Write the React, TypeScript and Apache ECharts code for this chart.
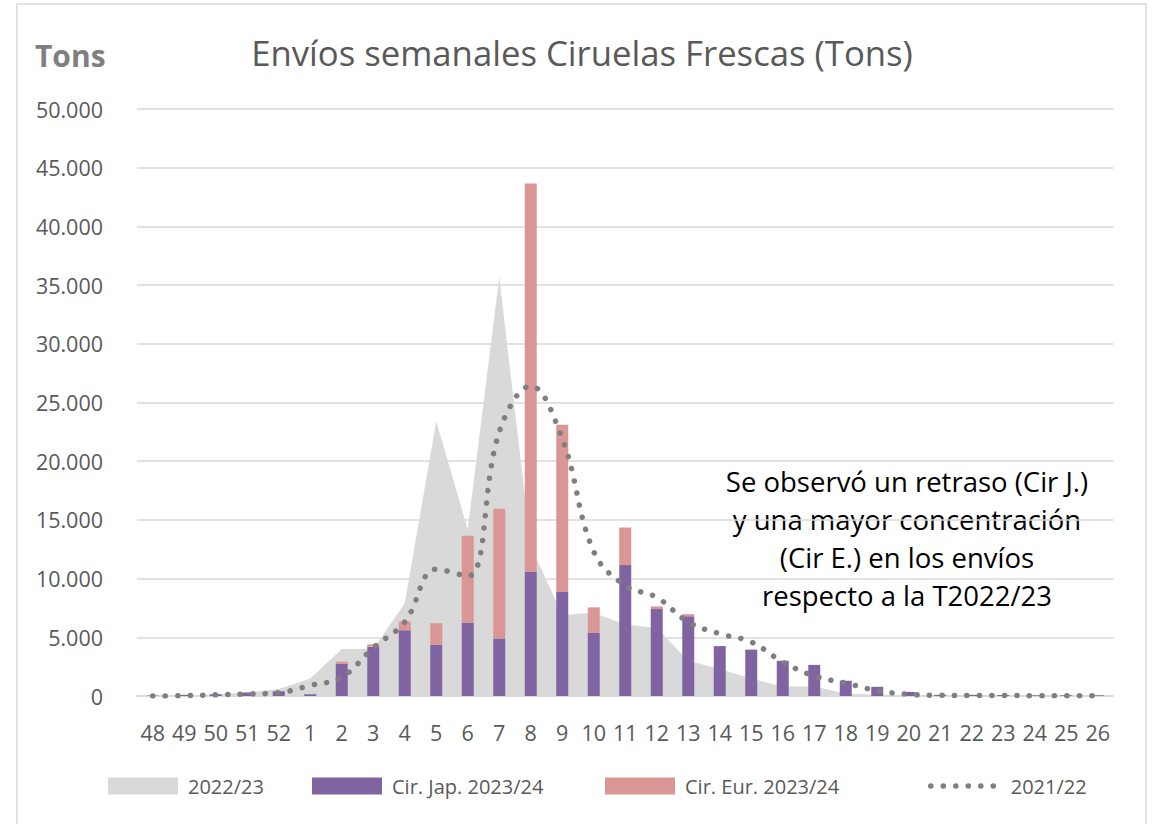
import React, { useEffect, useRef } from "react";
import * as echarts from "echarts";

const weeks = ["48", "49", "50", "51", "52", "1", "2", "3", "4", "5", "6", "7", "8", "9", "10", "11", "12", "13", "14", "15", "16", "17", "18", "19", "20", "21", "22", "23", "24", "25", "26"];

const season2223 = [0, 50, 150, 300, 600, 1500, 4000, 4000, 7900, 23400, 14200, 35700, 12800, 6900, 7100, 6100, 5800, 3000, 2300, 1500, 800, 800, 200, 100, 80, 50, 50, 30, 20, 20, 20];

const japonesa2324 = [30, 100, 150, 300, 400, 150, 2750, 4200, 5600, 4350, 6250, 4900, 10600, 8850, 5400, 11150, 7400, 6800, 4250, 3950, 3000, 2650, 1300, 780, 350, 100, 100, 80, 60, 60, 60];

const europea2324 = [0, 0, 0, 0, 0, 0, 170, 200, 750, 1850, 7400, 11050, 33050, 14250, 2150, 3200, 230, 170, 0, 0, 0, 0, 0, 0, 0, 0, 0, 0, 0, 0, 0];

const season2122 = [0, 30, 100, 170, 280, 900, 1600, 4100, 6300, 10800, 10200, 22500, 26400, 21900, 12300, 9400, 8400, 6300, 5300, 4600, 2900, 1700, 1100, 450, 150, 60, 50, 40, 30, 20, 20];

const yTicks = [0, 5000, 10000, 15000, 20000, 25000, 30000, 35000, 40000, 45000, 50000];

const fmt = (v: number) => {
  if (v === 0) return "0";
  const s = String(Math.round(v));
  return s.replace(/\B(?=(\d{3})+(?!\d))/g, ".");
};

const FONT = "'Open Sans', sans-serif";
const TXT = "#595959";
const DOT_STYLE = { color: "#7f7f7f", width: 5.5, type: [0.1, 12.4], cap: "round" };

export default function App() {
  const ref = useRef<HTMLDivElement>(null);
  useEffect(() => {
    if (!ref.current) return;
    const chart = echarts.init(ref.current, undefined, { renderer: "svg" });
    const legendBase = {
      top: 776,
      padding: 0,
      itemWidth: 70,
      itemHeight: 17,
      textStyle: { color: TXT, fontSize: 20, fontFamily: FONT, padding: [0, 0, 0, 5] },
    };
    chart.setOption({
      animation: false,
      backgroundColor: "#ffffff",
      textStyle: { fontFamily: FONT },
      grid: { left: 137, right: 44.5, top: 109, bottom: 128, containLabel: false },
      legend: [
        { ...legendBase, left: 108, data: [{ name: "2022/23", icon: "rect", itemStyle: { color: "#d9d9d9" } }] },
        { ...legendBase, left: 312, data: [{ name: "Cir. Jap. 2023/24", icon: "rect" }] },
        { ...legendBase, left: 605, data: [{ name: "Cir. Eur. 2023/24", icon: "rect" }] },
        {
          ...legendBase,
          left: 928,
          data: [
            {
              name: "2021/22",
              itemStyle: { color: "rgba(0,0,0,0)", borderWidth: 0, opacity: 0 },
              lineStyle: DOT_STYLE,
            },
          ],
        },
      ],
      xAxis: {
        type: "category",
        data: weeks,
        boundaryGap: true,
        axisLine: { show: true, lineStyle: { color: "#d9d9d9", width: 1.5 } },
        axisTick: { show: false },
        axisLabel: { color: TXT, fontSize: 21.5, fontFamily: FONT, margin: 25, interval: 0 },
      },
      yAxis: {
        type: "value",
        min: yTicks[0],
        max: yTicks[yTicks.length - 1],
        interval: yTicks[1] - yTicks[0],
        axisLine: { show: false },
        axisTick: { show: false },
        splitLine: { lineStyle: { color: "#d9d9d9", width: 1.5 } },
        axisLabel: { color: TXT, fontSize: 21.5, fontFamily: FONT, margin: 34, formatter: (v: number) => fmt(v) },
      },
      series: [
        {
          name: "2022/23",
          type: "line",
          data: season2223,
          symbol: "none",
          lineStyle: { width: 0, color: "#d9d9d9" },
          itemStyle: { color: "#d9d9d9" },
          areaStyle: { color: "#d9d9d9", opacity: 1 },
          z: 1,
        },
        {
          name: "Cir. Jap. 2023/24",
          type: "bar",
          stack: "t",
          data: japonesa2324,
          barWidth: 12,
          itemStyle: { color: "#8064a2" },
          z: 2,
        },
        {
          name: "Cir. Eur. 2023/24",
          type: "bar",
          stack: "t",
          data: europea2324,
          barWidth: 12,
          itemStyle: { color: "#da9694" },
          z: 2,
        },
        {
          name: "2021/22",
          type: "line",
          data: season2122,
          symbol: "none",
          smooth: 0.4,
          itemStyle: { color: "#7f7f7f" },
          lineStyle: DOT_STYLE,
          z: 3,
        },
      ],
      graphic: [
        {
          type: "rect",
          shape: { x: 17, y: 4, width: 1129, height: 830 },
          style: { fill: "none", stroke: "#d9d9d9", lineWidth: 1.5 },
          silent: true,
        },
        {
          type: "text",
          x: 35,
          y: 55,
          style: { text: "Tons", fill: "#7f7f7f", fontSize: 30, fontWeight: "bold", fontFamily: FONT, textVerticalAlign: "middle" },
        },
        {
          type: "text",
          x: 582,
          y: 52,
          style: { text: "Envíos semanales Ciruelas Frescas (Tons)", fill: TXT, fontSize: 34.7, fontFamily: FONT, textAlign: "center", textVerticalAlign: "middle" },
        },
        {
          type: "text",
          x: 907,
          y: 462,
          style: {
            text: "Se observó un retraso (Cir J.)\ny una mayor concentración\n(Cir E.) en los envíos\nrespecto a la T2022/23",
            fill: "#000000",
            fontSize: 27.5,
            lineHeight: 38,
            fontFamily: FONT,
            textAlign: "center",
            textVerticalAlign: "top",
          },
        },
      ],
    });
    return () => chart.dispose();
  }, []);
  return <div ref={ref} style={{ position: "fixed", left: 0, top: 0, width: 1158, height: 824 }} />;
}
